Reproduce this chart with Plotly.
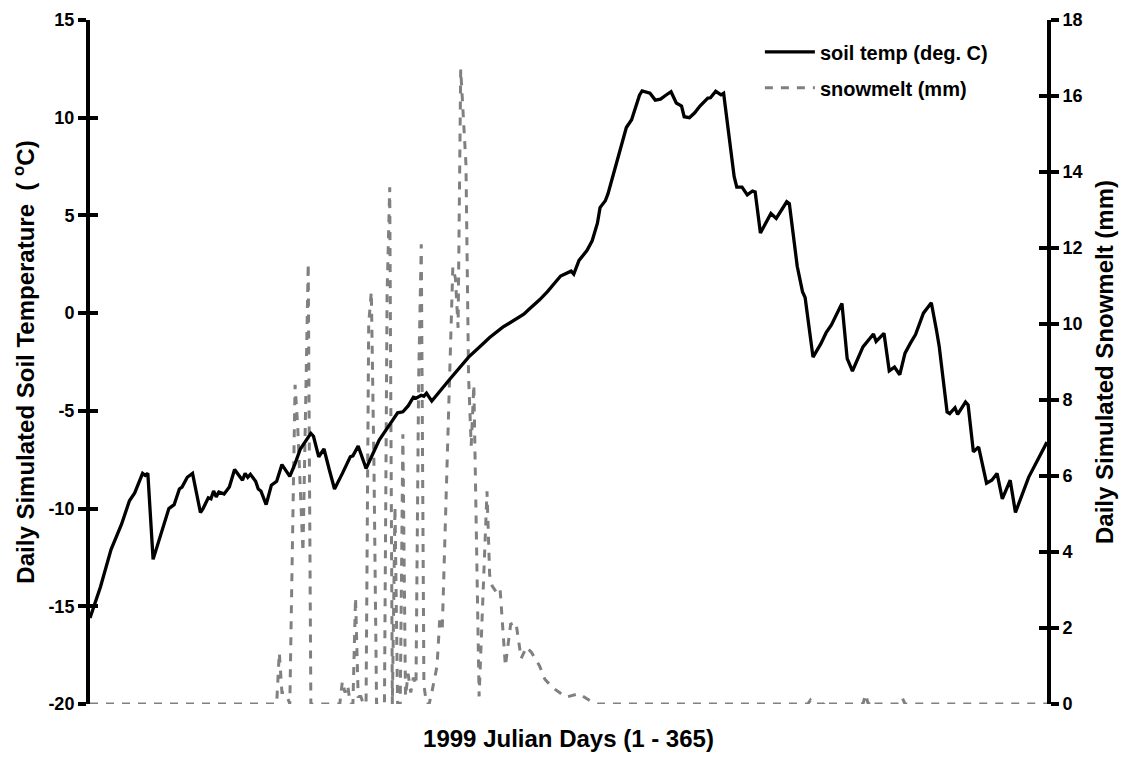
import plotly.graph_objects as go

# ---- data ----
temp_days = [1, 5, 9, 13, 16, 18, 21, 22, 23, 25, 31, 33, 35, 36, 38, 40, 43, 44, 46, 47,
             48, 49, 50, 52, 54, 56, 59, 60, 61, 62, 64, 65, 66, 68, 70, 72, 74, 77, 79, 81,
             85, 86, 88, 90, 92, 94, 97, 100, 101, 103, 106, 108, 111, 116, 118, 120, 122, 124, 125, 127,
             128, 129, 131, 138, 145, 151, 153, 158, 166, 168, 172, 175, 178, 180, 184, 185, 187, 190, 192, 194,
             195, 197, 198, 200, 201, 203, 205, 207, 210, 211, 214, 216, 218, 220, 222, 224, 226, 227, 229, 231,
             233, 236, 237, 239, 241, 242, 246, 247, 249, 251, 253, 254, 256, 260, 262, 266, 267, 270, 272, 273,
             276, 279, 281, 283, 285, 287, 289, 291, 295, 299, 300, 303, 305, 307, 309, 311, 313, 315, 318, 321,
             323, 324, 327, 328, 330, 331, 334, 335, 337, 339, 342, 344, 346, 348, 351, 353, 358, 365]
temp_vals = [-15.6, -14.0, -12.1, -10.8, -9.6, -9.2, -8.2, -8.3, -8.2, -12.6, -10.0, -9.8, -9.0, -8.9, -8.4, -8.2, -10.2, -10.0, -9.45, -9.5,
             -9.1, -9.4, -9.15, -9.25, -8.9, -8.0, -8.55, -8.2, -8.4, -8.25, -8.6, -9.0, -9.1, -9.8, -8.8, -8.6, -7.75, -8.35, -7.7, -6.95,
             -6.15, -6.3, -7.35, -6.95, -8.0, -9.0, -8.2, -7.35, -7.3, -6.8, -7.95, -7.35, -6.5, -5.5, -5.1, -5.05, -4.75, -4.3, -4.35, -4.2,
             -4.25, -4.1, -4.5, -3.36, -2.25, -1.5, -1.25, -0.72, -0.05, 0.2, 0.68, 1.1, 1.6, 1.9, 2.15, 2.0, 2.7, 3.2, 3.7, 4.6,
             5.4, 5.75, 6.1, 7.1, 7.5, 8.6, 9.5, 9.9, 11.15, 11.37, 11.25, 10.9, 10.95, 11.15, 11.33, 10.75, 10.6, 10.05, 10.0, 10.25,
             10.6, 11.0, 11.02, 11.35, 11.17, 11.25, 7.0, 6.45, 6.45, 6.05, 6.25, 6.2, 4.1, 5.1, 4.85, 5.7, 5.6, 2.4, 1.1, 0.8,
             -2.25, -1.56, -1.0, -0.6, -0.05, 0.5, -2.33, -2.96, -1.73, -1.07, -1.45, -1.03, -2.95, -2.76, -3.15, -2.05, -1.55, -1.1, 0.0, 0.53,
             -0.9, -1.7, -5.06, -5.14, -4.84, -5.18, -4.55, -4.7, -7.1, -6.85, -8.7, -8.55, -8.2, -9.5, -8.55, -10.2, -8.4, -6.6]

melt_days = [1, 72, 73, 74, 75, 76, 77, 79, 80, 81, 82, 83, 84, 85, 96, 97, 98, 99, 100, 101,
             102, 103, 104, 105, 106, 107, 108, 109, 110, 113, 114, 115, 116, 117, 118, 119, 120, 121, 122, 123,
             124, 125, 126, 127, 128, 129, 130, 131, 133, 134, 135, 139, 140, 141, 142, 144, 145, 146, 147, 149,
             152, 153, 154, 156, 157, 159, 161, 163, 165, 167, 169, 172, 174, 177, 182, 187, 192, 194, 274, 275,
             276, 280, 281, 282, 295, 296, 297, 298, 299, 309, 310, 311, 365]
melt_vals = [0, 0, 1.35, 0.3, 0.3, 0.2, 0, 8.4, 7.3, 5.7, 4.0, 7.8, 11.6, 0, 0, 0.6, 0.3, 0.5, 0, 0,
             2.8, 0.2, 0.2, 0, 0, 10.0, 10.85, 6.3, 0, 0, 10.8, 13.6, 0, 5.2, 0, 0, 7.1, 0.2, 0.8, 0.3,
             0.7, 0.5, 8.5, 12.1, 0.5, 0, 0, 0.3, 1.0, 2.2, 2.0, 11.5, 11.2, 9.9, 16.7, 14.2, 8.6, 6.8, 8.4, 0.2,
             5.6, 3.4, 3.1, 2.9, 3.0, 1.0, 2.1, 2.15, 1.2, 1.5, 1.35, 1.0, 0.65, 0.43, 0.18, 0.27, 0.05, 0, 0, 0.1,
             0, 0, 0.1, 0, 0, 0.25, 0, 0.1, 0, 0, 0.15, 0, 0]

temp_range = [-20, 15]
melt_range = [0, 18]
temp_tick_vals = [-20, -15, -10, -5, 0, 5, 10, 15]
temp_tick_text = ["-20", "-15", "-10", "-5", "0", "5", "10", "15"]
melt_tick_vals = [0, 2, 4, 6, 8, 10, 12, 14, 16, 18]
melt_tick_text = ["0", "2", "4", "6", "8", "10", "12", "14", "16", "18"]

FONT = "Liberation Sans, Arial, sans-serif"
tick_font = dict(family=FONT, size=18, color="black", weight="bold")
title_font = dict(family=FONT, size=24, color="black", weight="bold")

fig = go.Figure()
fig.add_trace(go.Scatter(
    x=melt_days, y=melt_vals, mode="lines", name="snowmelt (mm)",
    line=dict(color="#808080", width=3, dash="8px,8px"),
    yaxis="y", legendrank=2, legendgroup="b", cliponaxis=False, hoverinfo="skip"))
fig.add_trace(go.Scatter(
    x=temp_days, y=temp_vals, mode="lines", name="soil temp (deg. C)",
    line=dict(color="black", width=3.3),
    yaxis="y2", legendrank=1, legendgroup="a", cliponaxis=False, hoverinfo="skip"))
# empty traces that carry the inward half of the crossing ticks
fig.add_trace(go.Scatter(x=[None], y=[None], yaxis="y3", showlegend=False, hoverinfo="skip"))
fig.add_trace(go.Scatter(x=[None], y=[None], yaxis="y4", showlegend=False, hoverinfo="skip"))

common = dict(showgrid=False, zeroline=False, fixedrange=True, automargin=False)

fig.update_layout(
    width=1131, height=757,
    margin=dict(l=90, r=84, t=20, b=53),
    paper_bgcolor="white", plot_bgcolor="white",
    showlegend=True,
    legend=dict(x=0.70, y=0.982, xanchor="left", yanchor="top",
                font=dict(family=FONT, size=20, color="black", weight="bold"),
                bgcolor="rgba(0,0,0,0)", borderwidth=0, itemwidth=50,
                traceorder="grouped", tracegroupgap=7),
    xaxis=dict(range=[1, 365], showline=False, ticks="", showticklabels=False,
               title=dict(text="1999 Julian Days (1 - 365)", font=title_font, standoff=26),
               **common),
    yaxis=dict(side="right", range=melt_range, tickmode="array",
               tickvals=melt_tick_vals, ticktext=melt_tick_text,
               showline=True, linewidth=4, linecolor="black",
               ticks="outside", ticklen=8, tickwidth=3.5, tickcolor="black",
               tickfont=tick_font,
               title=dict(text="Daily Simulated Snowmelt (mm)", font=title_font, standoff=16),
               **common),
    yaxis2=dict(side="left", overlaying="y", range=temp_range, tickmode="array",
                tickvals=temp_tick_vals, ticktext=temp_tick_text,
                showline=True, linewidth=4, linecolor="black",
                ticks="outside", ticklen=8, tickwidth=3.5, tickcolor="black",
                tickfont=tick_font,
                title=dict(text="Daily Simulated Soil Temperature  ( <sup>o</sup>C)",
                           font=title_font, standoff=8),
                **common),
    yaxis3=dict(side="right", overlaying="y", range=melt_range, tickmode="array",
                tickvals=melt_tick_vals,
                showline=False, ticks="inside", ticklen=8, tickwidth=3.5, tickcolor="black",
                showticklabels=False, **common),
    yaxis4=dict(side="left", overlaying="y", range=temp_range, tickmode="array",
                tickvals=temp_tick_vals,
                showline=False, ticks="inside", ticklen=8, tickwidth=3.5, tickcolor="black",
                showticklabels=False, **common),
)

fig.write_html("out.html")
